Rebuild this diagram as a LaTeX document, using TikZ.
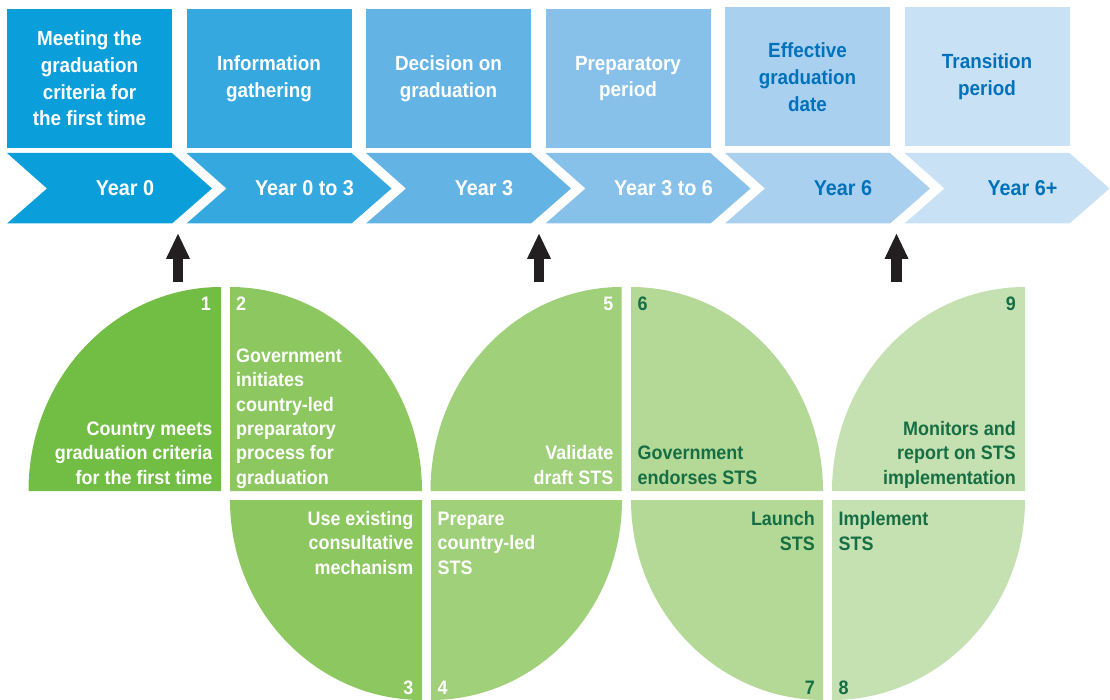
\documentclass[tikz,border=0pt]{standalone}
\usepackage{fontspec}
\setmainfont{Liberation Sans}[FakeStretch=0.92]
\usetikzlibrary{arrows.meta}
\definecolor{blueA}{HTML}{0A9FDA}
\definecolor{blueB}{HTML}{35A8E0}
\definecolor{blueC}{HTML}{63B4E5}
\definecolor{blueD}{HTML}{87C1E9}
\definecolor{blueE}{HTML}{AAD0EF}
\definecolor{blueF}{HTML}{C8E1F4}
\definecolor{bluetext}{HTML}{0072BC}
\definecolor{greenA}{HTML}{72BE44}
\definecolor{greenB}{HTML}{8CC75F}
\definecolor{greenC}{HTML}{A0D079}
\definecolor{greenD}{HTML}{B4D997}
\definecolor{greenE}{HTML}{C6E1B1}
\definecolor{greentext}{HTML}{166E44}
\definecolor{arrowgrey}{HTML}{231F20}
\tikzset{
  stagebox/.style={minimum width=165pt, minimum height=139pt, inner sep=0pt, align=center,
    font=\bfseries\fontsize{20.5}{26.7}\selectfont, text=white},
  yearlabel/.style={inner sep=0pt, font=\bfseries\fontsize{21.5}{24}\selectfont, text=white},
  steptext/.style={inner sep=0pt, font=\bfseries\fontsize{19.5}{24.3}\selectfont, text=white},
  stepright/.style={steptext, anchor=base east, align=right},
  stepleft/.style={steptext, anchor=base west, align=left},
  uparrow/.style={draw=arrowgrey, line width=10.5pt, -{Triangle[width=22pt,length=26pt]}}
}
\begin{document}
\begin{tikzpicture}[x=1pt,y=-1pt]
\useasboundingbox (0,0) rectangle (1110,700);
% stages
\node[stagebox, fill=blueA] (meet) at (89.5,78.5) {Meeting the\\graduation\\criteria for\\the first time};
\node[stagebox, fill=blueB] (info) at (269,78.5) {Information\\gathering};
\node[stagebox, fill=blueC] (decide) at (448.5,78.5) {Decision on\\graduation};
\node[stagebox, fill=blueD] (prep) at (628,78.5) {Preparatory\\period};
\node[stagebox, fill=blueE, text=bluetext] (effective) at (807.5,77) {Effective\\graduation\\date};
\node[stagebox, fill=blueF, text=bluetext] (transition) at (987,77) {Transition\\period};
% timeline
\fill[blueA] (7,153) -- (172,153) -- (212,188.5) -- (172,223.5) -- (7,223.5) -- (47,188.5) -- cycle;
\fill[blueB] (186.5,153) -- (351.5,153) -- (391.5,188.5) -- (351.5,223.5) -- (186.5,223.5) -- (226.5,188.5) -- cycle;
\fill[blueC] (366,153) -- (531,153) -- (571,188.5) -- (531,223.5) -- (366,223.5) -- (406,188.5) -- cycle;
\fill[blueD] (545.5,153) -- (710.5,153) -- (750.5,188.5) -- (710.5,223.5) -- (545.5,223.5) -- (585.5,188.5) -- cycle;
\fill[blueE] (725,153) -- (890,153) -- (930,188.5) -- (890,223.5) -- (725,223.5) -- (765,188.5) -- cycle;
\fill[blueF] (904.5,153) -- (1069.5,153) -- (1109.5,188.5) -- (1069.5,223.5) -- (904.5,223.5) -- (944.5,188.5) -- cycle;
\node[yearlabel] (y0) at (125,188.5) {Year 0};
\node[yearlabel] (y03) at (304.5,188.5) {Year 0 to 3};
\node[yearlabel] (y3) at (484,188.5) {Year 3};
\node[yearlabel] (y36) at (663.5,188.5) {Year 3 to 6};
\node[yearlabel, text=bluetext] (y6) at (843,188.5) {Year 6};
\node[yearlabel, text=bluetext] (y6p) at (1022.5,188.5) {Year 6+};
% arrows
\coordinate (a1) at (178,282);
\coordinate (a1 tip) at (178,233);
\coordinate (a2) at (539,282);
\coordinate (a2 tip) at (539,233);
\coordinate (a3) at (896.5,282);
\coordinate (a3 tip) at (896.5,233);
\draw[uparrow] (a1) -- (a1 tip);
\draw[uparrow] (a2) -- (a2 tip);
\draw[uparrow] (a3) -- (a3 tip);
% steps
\fill[greenA] (221,491) -- (28.5,491) arc[start angle=180, end angle=90, x radius=192.5pt, y radius=204pt] -- cycle;
\fill[greenB] (230,491) -- (230,287) arc[start angle=90, end angle=0, x radius=192pt, y radius=204pt] -- cycle;
\fill[greenB] (422,500) -- (230,500) arc[start angle=180, end angle=270, x radius=192pt, y radius=200pt] -- cycle;
\fill[greenC] (431,500) -- (431,700) arc[start angle=270, end angle=360, x radius=191pt, y radius=200pt] -- cycle;
\fill[greenC] (621.5,491) -- (430.5,491) arc[start angle=180, end angle=90, x radius=191pt, y radius=204pt] -- cycle;
\fill[greenD] (631,491) -- (631,287) arc[start angle=90, end angle=0, x radius=192pt, y radius=204pt] -- cycle;
\fill[greenD] (823,500) -- (631,500) arc[start angle=180, end angle=270, x radius=192pt, y radius=200pt] -- cycle;
\fill[greenE] (832,500) -- (832,700) arc[start angle=270, end angle=360, x radius=193pt, y radius=200pt] -- cycle;
\fill[greenE] (1025,491) -- (832,491) arc[start angle=180, end angle=90, x radius=193pt, y radius=204pt] -- cycle;
\node[stepright] (n1) at (211,310) {1};
\node[stepright] (s1) at (212.5,484) {Country meets\\graduation criteria\\for the first time};
\node[stepleft] (n2) at (236,310) {2};
\node[stepleft] (s2) at (236,484) {Government\\initiates\\country-led\\preparatory\\process for\\graduation};
\node[stepright] (s3) at (413.5,574) {Use existing\\consultative\\mechanism};
\node[stepright] (n3) at (413.5,694) {3};
\node[stepleft] (s4) at (437.5,574) {Prepare\\country-led\\STS};
\node[stepleft] (n4) at (437.5,694) {4};
\node[stepright] (n5) at (613.5,310) {5};
\node[stepright] (s5) at (613.5,484) {Validate\\draft STS};
\node[stepleft, text=greentext] (n6) at (637.5,310) {6};
\node[stepleft, text=greentext] (s6) at (637.5,484) {Government\\endorses STS};
\node[stepright, text=greentext] (s7) at (815,550) {Launch\\STS};
\node[stepright, text=greentext] (n7) at (815,694) {7};
\node[stepleft, text=greentext] (s8) at (838.5,550) {Implement\\STS};
\node[stepleft, text=greentext] (n8) at (838.5,694) {8};
\node[stepright, text=greentext] (n9) at (1016,310) {9};
\node[stepright, text=greentext] (s9) at (1016,484) {Monitors and\\report on STS\\implementation};
\end{tikzpicture}
\end{document}
